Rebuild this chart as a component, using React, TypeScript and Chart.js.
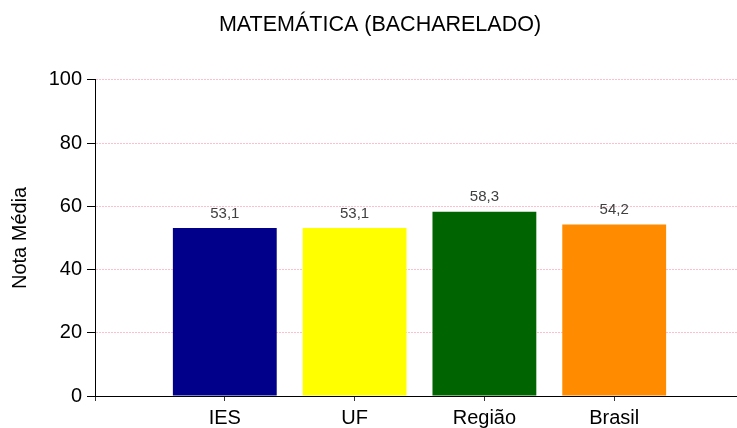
import React, { useEffect, useRef } from "react";
import { Chart, registerables } from "chart.js";

Chart.register(...registerables);

const title = "MATEMÁTICA (BACHARELADO)";
const yAxisTitle = "Nota Média";
const categories = ["IES", "UF", "Região", "Brasil"];
const values = [53.1, 53.1, 58.3, 54.2];
const barColors = ["#00008B", "#FFFF00", "#006400", "#FF8C00"];
const yTicks = [0, 20, 40, 60, 80, 100];

const FONT = "'Liberation Sans', Arial, sans-serif";

const valueLabels = {
  id: "valueLabels",
  afterDatasetsDraw(chart: any) {
    const ctx = chart.ctx;
    const meta = chart.getDatasetMeta(0);
    ctx.save();
    ctx.font = `15px ${FONT}`;
    ctx.fillStyle = "#404040";
    ctx.textAlign = "center";
    ctx.textBaseline = "alphabetic";
    meta.data.forEach((el: any, i: number) => {
      const v = chart.data.datasets[0].data[i];
      if (v == null) return;
      ctx.fillText(v.toFixed(1).replace(".", ","), el.x, el.y - 10.5);
    });
    ctx.restore();
  },
};

export default function App() {
  const ref = useRef<HTMLCanvasElement>(null);
  useEffect(() => {
    if (!ref.current) return;
    const labels = ["", ...categories, ""];
    const data = [null, ...values, null];
    const colors = ["transparent", ...barColors, "transparent"];
    const chart = new Chart(ref.current, {
      type: "bar",
      data: {
        labels,
        datasets: [
          {
            data: data as any,
            backgroundColor: colors,
            borderWidth: 0,
            categoryPercentage: 1,
            barPercentage: 0.8,
          },
        ],
      },
      plugins: [valueLabels],
      options: {
        responsive: false,
        animation: false,
        devicePixelRatio: 1,
        layout: { padding: { left: 0, right: 0, top: 0, bottom: 0 } },
        plugins: {
          legend: { display: false },
          tooltip: { enabled: false },
          title: {
            display: true,
            text: title,
            color: "#000",
            font: { family: FONT, size: 21.5, weight: "normal" as any, lineHeight: 1.2 },
            padding: { top: 12, bottom: 42 },
          },
        },
        scales: {
          x: {
            type: "category",
            offset: false,
            grid: {
              display: true,
              offset: false,
              drawOnChartArea: false,
              drawTicks: true,
              tickLength: 5,
              tickWidth: 1,
              lineWidth: 1,
              tickColor: "#333",
            },
            border: { display: true, color: "#000", width: 1 },
            ticks: {
              autoSkip: false,
              maxRotation: 0,
              minRotation: 0,
              padding: 5,
              color: "#000",
              font: { family: FONT, size: 20 },
            },
            afterFit: (s: any) => {
              s.height = 32;
            },
          },
          y: {
            min: yTicks[0],
            max: yTicks[yTicks.length - 1],
            afterBuildTicks: (s: any) => {
              s.ticks = yTicks.map((v) => ({ value: v }));
            },
            grid: {
              drawOnChartArea: true,
              drawTicks: true,
              tickLength: 8,
              tickColor: "#000",
              color: (c: any) => (c.tick && c.tick.value === 0 ? "transparent" : "#FFC0CB"),
            },
            border: { display: true, color: "#000", width: 1, dash: [2, 1] },
            ticks: {
              padding: 5,
              color: "#000",
              font: { family: FONT, size: 20 },
            },
            title: {
              display: true,
              text: yAxisTitle,
              color: "#000",
              font: { family: FONT, size: 20 },
              padding: { top: 8, bottom: 0 },
            },
            afterFit: (s: any) => {
              s.width = 95;
            },
          },
          yRightSpacer: {
            type: "linear",
            position: "right",
            display: true,
            grid: { display: false, drawTicks: false },
            border: { display: false },
            ticks: { display: false },
            afterFit: (s: any) => {
              s.width = 16;
            },
          },
        },
      },
    });
    return () => chart.destroy();
  }, []);
  return (
    <div
      style={{
        position: "fixed",
        left: 0,
        top: 0,
        width: 737,
        height: 428,
        overflow: "hidden",
        background: "#fff",
      }}
    >
      <canvas ref={ref} width={760} height={428} style={{ width: 760, height: 428, display: "block" }} />
    </div>
  );
}
